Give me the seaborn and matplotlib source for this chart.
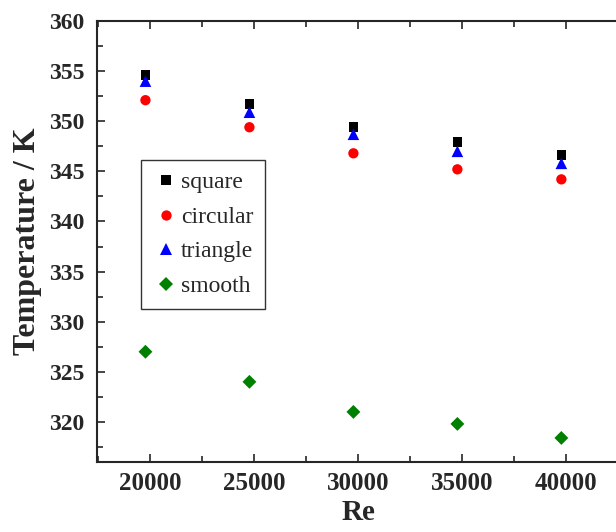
import matplotlib
matplotlib.use("Agg")
import matplotlib.pyplot as plt
import seaborn as sns
import pandas as pd
from matplotlib.ticker import MultipleLocator

re_values = [19780, 24780, 29780, 34780, 39780]
square = [354.6, 351.7, 349.4, 347.9, 346.6]
circular = [352.1, 349.4, 346.8, 345.2, 344.2]
triangle = [354.0, 350.9, 348.7, 347.0, 345.8]
smooth = [327.0, 324.0, 321.0, 319.8, 318.4]
series_names = ["square", "circular", "triangle", "smooth"]
x_ticks = [20000, 25000, 30000, 35000, 40000]
y_ticks = [320, 325, 330, 335, 340, 345, 350, 355, 360]

rows = []
for name, vals in zip(series_names, [square, circular, triangle, smooth]):
    for x, y in zip(re_values, vals):
        rows.append({"Re": x, "T": y, "shape": name})
df = pd.DataFrame(rows)

sns.set_style("ticks")
plt.rcParams["font.family"] = ["Liberation Serif", "DejaVu Serif"]

fig = plt.figure(figsize=(6.16, 5.32), dpi=100)
ax = fig.add_axes([97/616, (532-462)/532, (620-97)/616, (462-21)/532])

palette = {"square": "black", "circular": "red", "triangle": "blue", "smooth": "green"}
markers = {"square": "s", "circular": "o", "triangle": "^", "smooth": "D"}
sizes = {"square": 48, "circular": 55, "triangle": 70, "smooth": 50}
sns.scatterplot(data=df, x="Re", y="T", hue="shape", style="shape", size="shape",
                palette=palette, markers=markers, sizes=sizes, linewidth=0,
                ax=ax, legend=True)

ax.set_xlim(17450, 42600)
ax.set_ylim(316, 360)
ax.set_xticks(x_ticks)
ax.set_yticks(y_ticks)
ax.xaxis.set_minor_locator(MultipleLocator(2500))
ax.yaxis.set_minor_locator(MultipleLocator(2.5))
ax.tick_params(axis="both", which="both", direction="in", top=True, right=False,
               width=1.2, labelsize=18)
ax.tick_params(axis="y", labelsize=17)
ax.tick_params(axis="both", which="major", length=6)
ax.tick_params(axis="both", which="minor", length=4)
ax.tick_params(axis="y", which="major", pad=9)
ax.tick_params(axis="x", which="major", pad=7)
for lab in ax.get_xticklabels() + ax.get_yticklabels():
    lab.set_fontweight("bold")
for sp in ax.spines.values():
    sp.set_linewidth(1.5)
ax.spines["right"].set_visible(False)

ax.set_xlabel("Re", fontsize=21, fontweight="bold", labelpad=3)
ax.set_ylabel("Temperature / K", fontsize=23, fontweight="bold", labelpad=5)

handles, labels = ax.get_legend_handles_labels()
leg = ax.legend(handles, labels, loc="upper left", bbox_to_anchor=(44/523, 1 - (160-21)/441),
                fontsize=17, frameon=True, fancybox=False, edgecolor="black",
                handletextpad=0.1, borderpad=0.5, labelspacing=0.55, handlelength=1.1,
                borderaxespad=0)
leg.get_frame().set_linewidth(1.0)

fig.savefig("out.png", dpi=100)
